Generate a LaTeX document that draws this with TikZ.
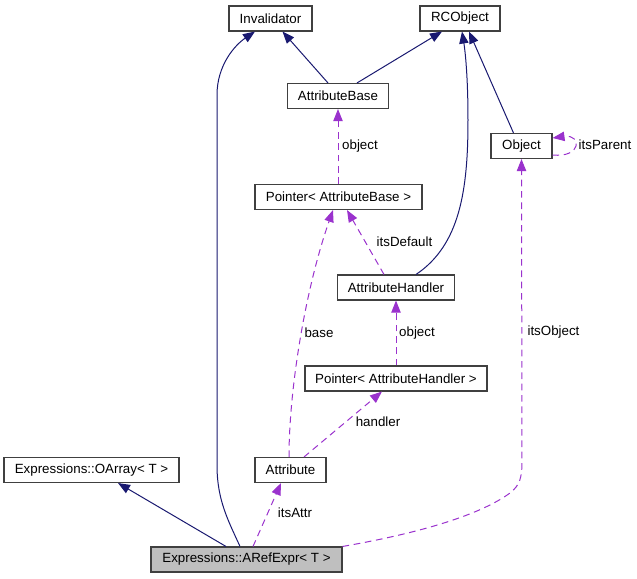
\documentclass[tikz,border=0pt]{standalone}
\usepackage{fontspec}
\setmainfont{Liberation Sans}
\usepackage{tikz}
\usetikzlibrary{calc}
\usetikzlibrary{arrows.meta}
\usetikzlibrary{positioning}
\definecolor{midnightblue}{RGB}{25, 25, 112}
\definecolor{darkorchid}{RGB}{154, 50, 205}
\definecolor{classgray}{RGB}{191, 191, 191}

\tikzset{
  cls/.style={draw=black!75, line width=0.8pt, fill=white, minimum height=18.75pt,
              inner sep=0pt, font=\fontsize{10}{12}\selectfont},
  inherit/.style={midnightblue, line width=0.75pt, -{Triangle[length=9pt, width=7pt]}},
  usage/.style={darkorchid, line width=0.75pt, dash pattern=on 5pt off 3.5pt,
                -{Triangle[length=9pt, width=7pt]}},
  lbl/.style={font=\fontsize{10}{12}\selectfont, inner sep=1pt}
}

\begin{document}
\begin{tikzpicture}[x=0.75pt, y=-0.75pt]
            % Frame to ensure alignment:
            \useasboundingbox (0, 0) rectangle (637, 579);
            % Classes
            \node[cls, minimum width=62.25pt]  (inval) at (270.5,  18.5) {Invalidator};
            \node[cls, minimum width=60.00pt]  (rco)   at (460.0,  18.5) {RCObject};
            \node[cls, minimum width=75.75pt]  (abase) at (338.0,  96.0) {AttributeBase};
            \node[cls, minimum width=125.25pt] (pab)   at (338.5, 197.0) {Pointer< AttributeBase >};
            \node[cls, minimum width=45.75pt]  (obj)   at (521.5, 146.0) {Object};
            \node[cls, minimum width=87.75pt]  (ahand) at (396.0, 287.5) {AttributeHandler};
            \node[cls, minimum width=136.50pt] (pah)   at (396.0, 378.5) {Pointer< AttributeHandler >};
            \node[cls, minimum width=53.25pt]  (attr)  at (290.5, 470.0) {Attribute};
            \node[cls, minimum width=131.25pt] (oarr)  at ( 91.5, 470.0) {Expressions::OArray< T >};
            \node[cls, minimum width=143.25pt, fill=classgray]
                                               (aref)  at (246.5, 559.5) {Expressions::ARefExpr< T >};
            % Inheritance
            \draw[inherit] ($(abase.north)+(-10,0)$) -- ($(inval.south)+(12,0)$);
            \draw[inherit] ($(abase.north)+(19,0)$)  -- ($(rco.south)+(-18,0)$);
            \draw[inherit] ($(obj.north)+(-8,0)$)    -- ($(rco.south)+(9,0)$);
            \draw[inherit] ($(ahand.north)+(20,0)$) .. controls (460, 245) and (468, 190) .. (468, 120)
                                                     .. controls (468,  75) and (465,  50) .. ($(rco.south)+(2,0)$);
            \draw[inherit] ($(aref.north)+(-6.5,0)$) .. controls (228, 520) and (217, 500) .. (217, 465)
                                                     -- (217, 95)
                                                     .. controls (217,  65) and (235,  45) .. ($(inval.south)+(-15.5,0)$);
            \draw[inherit] ($(aref.north)+(-20.5,0)$) -- ($(oarr.south)+(26.5,0)$);
            % Usage
            \draw[usage] ($(pab.north)+(-0.5,0)$) -- (abase.south);
            \draw[usage] ($(ahand.north)+(-12,0)$) -- ($(pab.south)+(8.5,0)$);
            \draw[usage] ($(attr.north)+(-1.5,0)$) .. controls (289, 390) and (305, 290) .. ($(pab.south)+(-5.5,0)$);
            \draw[usage] (pah.north) -- (ahand.south);
            \draw[usage] ($(attr.north)+(13.5,0)$) -- ($(pah.south)+(-14,0)$);
            \draw[usage] ($(aref.north)+(6.5,0)$)  -- ($(attr.south)+(-9.5,0)$);
            \draw[usage] (aref.north east) .. controls (420, 533) and (480, 515) .. (510, 493)
                                           .. controls (520, 485) and (522, 478) .. (522, 460)
                                           -- (obj.south);
            \draw[usage] ($(obj.east)+(0,9)$) .. controls (582, 158) and (582, 134) .. ($(obj.east)+(0,-8)$);
            % Labels
            \node[lbl] (lobjA)    at (360.0, 146.0) {object};
            \node[lbl] (ldefault) at (404.5, 242.0) {itsDefault};
            \node[lbl] (lbase)    at (319.0, 333.0) {base};
            \node[lbl] (lobjB)    at (417.0, 333.0) {object};
            \node[lbl] (lhandler) at (378.0, 422.0) {handler};
            \node[lbl] (lattr)    at (295.0, 513.0) {itsAttr};
            \node[lbl] (lobject)  at (553.5, 332.0) {itsObject};
            \node[lbl] (lparent)  at (605.0, 145.0) {itsParent};
        \end{tikzpicture}
\end{document}
